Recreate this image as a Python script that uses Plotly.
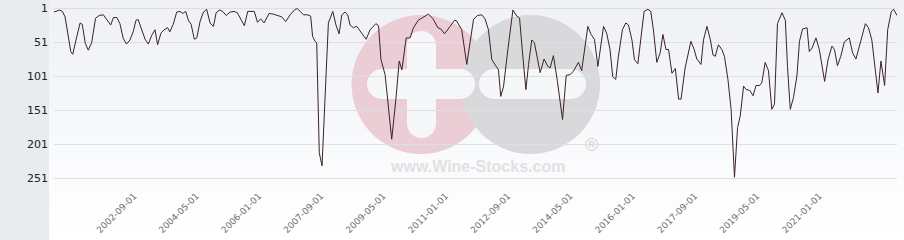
import plotly.graph_objects as go

# ---------------- data ----------------
dates = [
    "2000-06-11", "2000-08-03", "2000-09-01", "2000-09-27", "2000-11-22", "2000-12-11",
    "2001-01-20", "2001-02-21", "2001-03-14", "2001-04-13", "2001-05-12", "2001-06-14",
    "2001-07-22", "2001-08-27", "2001-10-06", "2001-11-09", "2001-12-17", "2002-01-13",
    "2002-02-15", "2002-03-17", "2002-04-19", "2002-05-21", "2002-06-23", "2002-07-25",
    "2002-08-21", "2002-09-11", "2002-10-16", "2002-11-18", "2002-12-20", "2003-01-22",
    "2003-02-23", "2003-03-20", "2003-04-22", "2003-05-23", "2003-06-26", "2003-07-18",
    "2003-08-20", "2003-09-23", "2003-10-25", "2003-11-21", "2003-12-20", "2004-01-15",
    "2004-02-11", "2004-03-13", "2004-04-06", "2004-05-08", "2004-06-10", "2004-07-12",
    "2004-08-14", "2004-09-16", "2004-10-12", "2004-11-13", "2004-12-16", "2005-01-18",
    "2005-02-26", "2005-04-06", "2005-05-07", "2005-06-04", "2005-07-15", "2005-08-17",
    "2005-09-25", "2005-10-20", "2005-11-20", "2005-12-22", "2006-01-24", "2006-03-13",
    "2006-04-24", "2006-06-12", "2006-07-15", "2006-08-23", "2006-10-05", "2006-11-22",
    "2006-12-15", "2007-01-11", "2007-02-13", "2007-03-25", "2007-04-24", "2007-05-13",
    "2007-06-06", "2007-06-22", "2007-07-17", "2007-08-13", "2007-10-14", "2007-11-26",
    "2007-12-27", "2008-01-27", "2008-02-22", "2008-03-24", "2008-04-20", "2008-05-13",
    "2008-06-15", "2008-07-17", "2008-08-19", "2008-10-17", "2008-11-25", "2008-12-27",
    "2009-01-20", "2009-02-15", "2009-03-11", "2009-04-20", "2009-05-22", "2009-06-24",
    "2009-08-03", "2009-09-05", "2009-10-01", "2009-11-12", "2009-12-20", "2010-01-22",
    "2010-03-11", "2010-04-29", "2010-06-17", "2010-07-29", "2010-09-18", "2010-10-19",
    "2010-11-21", "2011-01-16", "2011-02-27", "2011-03-20", "2011-05-09", "2011-06-27",
    "2011-08-09", "2011-09-01", "2011-10-09", "2011-11-21", "2011-12-23", "2012-01-25",
    "2012-02-27", "2012-04-09", "2012-05-02", "2012-05-24", "2012-06-20", "2012-08-02",
    "2012-09-20", "2012-10-28", "2012-11-24", "2012-12-26", "2013-01-25", "2013-02-20",
    "2013-03-23", "2013-04-18", "2013-06-13", "2013-07-22", "2013-08-27", "2013-09-19",
    "2013-10-21", "2013-11-29", "2014-01-18", "2014-02-23", "2014-04-02", "2014-05-04",
    "2014-06-07", "2014-06-22", "2014-07-24", "2014-09-22", "2014-10-24", "2014-11-26",
    "2014-12-29", "2015-02-23", "2015-03-25", "2015-04-27", "2015-05-23", "2015-06-22",
    "2015-07-18", "2015-08-26", "2015-09-28", "2015-10-24", "2015-11-27", "2015-12-22",
    "2016-01-24", "2016-02-25", "2016-03-25", "2016-05-01", "2016-05-29", "2016-06-24",
    "2016-07-27", "2016-08-29", "2016-09-25", "2016-10-24", "2016-11-19", "2016-12-22",
    "2017-01-24", "2017-02-25", "2017-03-21", "2017-04-30", "2017-05-22", "2017-06-25",
    "2017-07-27", "2017-08-22", "2017-10-02", "2017-10-26", "2017-11-29", "2018-01-02",
    "2018-01-27", "2018-02-18", "2018-03-21", "2018-04-23", "2018-05-19", "2018-06-22",
    "2018-07-23", "2018-08-25", "2018-09-24", "2018-10-20", "2018-11-22", "2018-12-18",
    "2019-01-20", "2019-02-22", "2019-03-24", "2019-04-26", "2019-05-19", "2019-06-21",
    "2019-07-23", "2019-08-25", "2019-09-20", "2019-10-19", "2019-12-02", "2020-01-04",
    "2020-01-25", "2020-02-21", "2020-03-23", "2020-04-26", "2020-05-21", "2020-06-20",
    "2020-08-03", "2020-08-25", "2020-09-21", "2020-10-29", "2020-12-01", "2021-01-22",
    "2021-02-24", "2021-04-04", "2021-04-28", "2021-05-27", "2021-06-29", "2021-08-02",
    "2021-09-20", "2021-10-22", "2021-11-24", "2022-01-06", "2022-02-24", "2022-03-26",
    "2022-04-28", "2022-06-01", "2022-06-27", "2022-07-26", "2022-08-31", "2022-09-30",
    "2022-11-05", "2022-11-27", "2022-12-30",
]
rank = [
    7, 4, 6, 14, 65, 69,
    43, 23, 25, 53, 63, 52,
    16, 12, 11, 19, 26, 15,
    15, 24, 46, 54, 48, 36,
    19, 18, 33, 47, 54, 41,
    33, 55, 38, 33, 30, 36,
    25, 7, 6, 9, 6, 19,
    25, 47, 45, 21, 7, 3,
    23, 28, 8, 4, 6, 12,
    7, 6, 8, 16, 27, 6,
    6, 6, 22, 17, 23, 9,
    10, 12, 14, 21, 11, 3,
    2, 6, 11, 11, 13, 43,
    50, 52, 214, 233, 23, 6,
    26, 39, 11, 7, 11, 26,
    30, 28, 35, 47, 33, 28,
    24, 27, 77, 99, 150, 194,
    136, 79, 92, 45, 45, 30,
    19, 14, 10, 16, 30, 32,
    39, 28, 19, 20, 33, 84,
    38, 18, 12, 11, 17, 33,
    77, 87, 92, 131, 117, 62,
    4, 13, 16, 72, 121, 84,
    48, 52, 96, 76, 87, 89,
    71, 109, 165, 100, 99, 94,
    84, 81, 93, 28, 40, 47,
    87, 28, 38, 62, 102, 106,
    72, 33, 23, 26, 48, 77,
    83, 43, 6, 3, 6, 33,
    81, 67, 40, 62, 62, 97,
    90, 135, 135, 89, 72, 50,
    62, 76, 84, 48, 28, 48,
    70, 72, 55, 62, 72, 106,
    150, 250, 177, 160, 116, 121,
    122, 130, 115, 115, 111, 81,
    93, 150, 142, 24, 8, 19,
    87, 150, 133, 101, 50, 32,
    30, 65, 60, 45, 62, 109,
    77, 57, 62, 86, 72, 51,
    45, 67, 76, 52, 24, 30,
    48, 92, 126, 79, 115, 33,
    6, 3, 12,
]
y_ticks = [1, 51, 101, 151, 201, 251]
x_ticks = [
    "2002-09-01", "2004-05-01", "2006-01-01", "2007-09-01", "2009-05-01", "2011-01-01",
    "2012-09-01", "2014-05-01", "2016-01-01", "2017-09-01", "2019-05-01", "2021-01-01",
]

# ---------------- layout helpers (pixel geometry of the 904x240 page) ----------------
W, H = 904, 240
L, R, T, B = 54, 7, 0, 50
PW, PH = W - L - R, H - T - B


def px(x):
    return (x - L) / PW


def py(y):
    return (H - B - y) / PH


shapes = []

# left grey panel
shapes.append(dict(type="rect", xref="paper", yref="paper", layer="below",
                   x0=px(0), x1=px(49), y0=py(H), y1=py(0),
                   fillcolor="#e8ecef", line=dict(width=0)))

# vertical background gradient
n_bands = 24
top_c = (239, 241, 246)
bot_c = (255, 255, 255)
for i in range(n_bands):
    t = i / (n_bands - 1)
    c = tuple(round(top_c[k] + (bot_c[k] - top_c[k]) * t) for k in range(3))
    y0 = H * i / n_bands
    y1 = H * (i + 1) / n_bands
    shapes.append(dict(type="rect", xref="paper", yref="paper", layer="below",
                       x0=px(49), x1=px(W), y0=py(y1), y1=py(y0),
                       fillcolor="rgb(%d,%d,%d)" % c, line=dict(width=0)))


def circle(cx, cy, r, color):
    shapes.append(dict(type="circle", xref="paper", yref="paper", layer="below",
                       x0=px(cx - r), x1=px(cx + r), y0=py(cy + r), y1=py(cy - r),
                       fillcolor=color, line=dict(width=0)))


def rect(x0, y0, x1, y1, color):
    shapes.append(dict(type="rect", xref="paper", yref="paper", layer="below",
                       x0=px(x0), x1=px(x1), y0=py(y1), y1=py(y0),
                       fillcolor=color, line=dict(width=0)))


def bar(x0, y0, x1, y1, color):
    # rounded bar (stadium shape)
    if x1 - x0 >= y1 - y0:
        r = (y1 - y0) / 2
        rect(x0 + r, y0, x1 - r, y1, color)
        circle(x0 + r, y0 + r, r, color)
        circle(x1 - r, y0 + r, r, color)
    else:
        r = (x1 - x0) / 2
        rect(x0, y0 + r, x1, y1 - r, color)
        circle(x0 + r, y0 + r, r, color)
        circle(x0 + r, y1 - r, r, color)


# watermark logo
pink = "#ebcdd6"
grey = "#d9d9db"
hole = "#f6f7f9"
circle(421, 84.5, 69.5, pink)
circle(530.5, 84.5, 69.5, grey)
bar(367, 69, 475, 99, hole)
bar(407, 31, 436, 138, hole)
bar(479, 69, 586, 99, hole)

annotations = [
    dict(text="<b>www.Wine-Stocks.com</b>", xref="paper", yref="paper",
         x=px(477), y=py(166), showarrow=False, xanchor="center", yanchor="middle",
         font=dict(family="Liberation Sans, Arial", size=16, color="#e1e1e3")),
    dict(text="®", xref="paper", yref="paper",
         x=px(591), y=py(145), showarrow=False, xanchor="center", yanchor="middle",
         font=dict(family="Liberation Sans, Arial", size=18, color="#d6d6d8")),
]

fig = go.Figure()
fig.add_trace(go.Scatter(
    x=dates, y=rank, mode="lines",
    line=dict(color="#3b2129", width=1),
    hoverinfo="x+y", showlegend=False,
))

# y range so that rank 1 sits 8 px below the top and 251 at 178 px
unit = 170 / (y_ticks[-1] - y_ticks[0])
y_top = y_ticks[0] - 8 / unit
y_bot = y_top + PH / unit

fig.update_layout(
    width=W, height=H,
    margin=dict(l=L, r=R, t=T, b=B, pad=0, autoexpand=False),
    paper_bgcolor="#ffffff",
    plot_bgcolor="rgba(0,0,0,0)",
    shapes=shapes,
    annotations=annotations,
    font=dict(family="DejaVu Sans", size=10, color="#333333"),
    xaxis=dict(
        type="date",
        automargin=False,
        range=[min(dates), max(dates)],
        tickvals=x_ticks, ticktext=x_ticks,
        tickangle=-45,
        showgrid=False, zeroline=False, showline=False,
        ticks="", tickfont=dict(size=9, color="#6f6f6f"),
        ticklabelstandoff=-2,
        ticklabelshift=-3,
    ),
    yaxis=dict(
        automargin=False,
        range=[y_bot, y_top],
        tickvals=y_ticks, ticktext=[str(v) for v in y_ticks],
        showgrid=True, gridcolor="#dedfe3", gridwidth=1,
        zeroline=False, showline=False, ticks="",
        tickfont=dict(size=11, color="#222222"),
        ticklabelstandoff=5,
    ),
)

fig.write_html("out.html")
